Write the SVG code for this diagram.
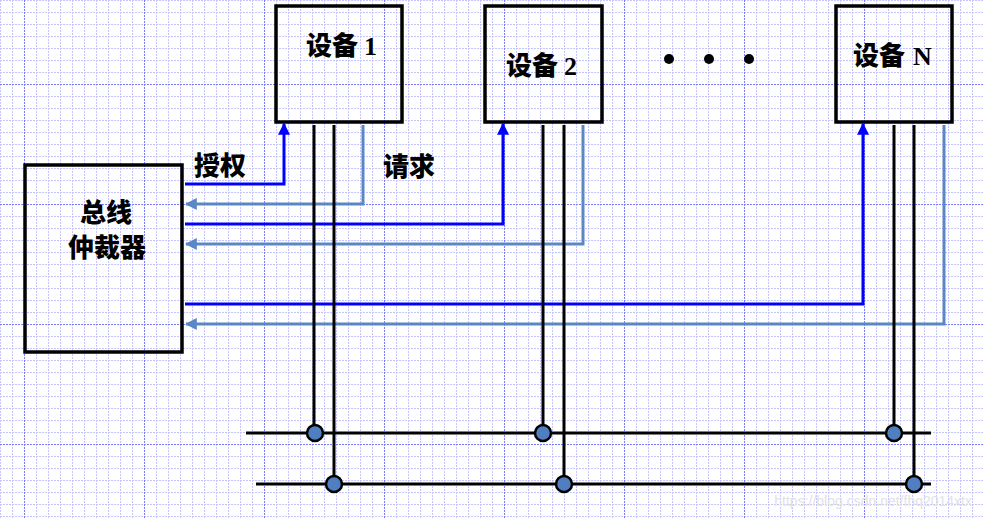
<svg xmlns="http://www.w3.org/2000/svg" width="984" height="519" viewBox="0 0 984 519">
<style>
.box{fill:none;stroke:#000;stroke-width:3.5}
.cn{font-family:"Noto Sans CJK SC","Noto Sans",sans-serif;font-weight:900;font-size:26px;fill:#000}
.num{font-family:"Liberation Serif",serif;font-weight:bold;font-size:26px}
.bus{fill:none;stroke:#000;stroke-width:3}
.grant{fill:none;stroke:#0000ff;stroke-width:3}
.req{fill:none;stroke:#5b87c5;stroke-width:3}
.tap{fill:#4f7fc0;stroke:#000;stroke-width:2.5}
</style>
<defs>
<pattern id="minor" width="12" height="12" patternUnits="userSpaceOnUse" x="0" y="0">
<path d="M0.5 0V12M0 0.5H12" stroke="#c4c4ff" stroke-width="1" stroke-dasharray="2 1" fill="none"/>
</pattern>
<pattern id="major" width="120" height="120" patternUnits="userSpaceOnUse" x="24" y="84">
<path d="M0.5 0V120M0 0.5H120" stroke="#7c7cff" stroke-width="1" stroke-dasharray="2 1" fill="none"/>
</pattern>
<marker id="ag" viewBox="0 0 10 10" refX="9" refY="5" markerWidth="4" markerHeight="4" markerUnits="strokeWidth" orient="auto">
<path d="M0 0L10 5L0 10z" fill="#0000ff"/>
</marker>
<marker id="ar" viewBox="0 0 10 10" refX="9" refY="5" markerWidth="4" markerHeight="4" markerUnits="strokeWidth" orient="auto">
<path d="M0 0L10 5L0 10z" fill="#5b87c5"/>
</marker>
</defs>
<rect width="984" height="519" fill="#fff"/>
<rect width="984" height="519" fill="url(#minor)"/>
<rect width="984" height="519" fill="url(#major)"/>

<g id="connectors">
<path class="grant" d="M185 184H284V124" marker-end="url(#ag)"/>
<path class="req" d="M363 125V204H186" marker-end="url(#ar)"/>
<path class="grant" d="M185 224H503V124" marker-end="url(#ag)"/>
<path class="req" d="M583 125V244H186" marker-end="url(#ar)"/>
<path class="grant" d="M185 304H863V124" marker-end="url(#ag)"/>
<path class="req" d="M944 125V324H186" marker-end="url(#ar)"/>
<path class="bus" d="M314 125V433M334 125V484M543 125V433M564 125V484M894 125V433M914 125V484"/>
<path class="bus" d="M246 433H931M256 484H931"/>
<circle class="tap" cx="315" cy="433" r="8"/>
<circle class="tap" cx="543" cy="433" r="8"/>
<circle class="tap" cx="894" cy="433" r="8"/>
<circle class="tap" cx="334" cy="484" r="8"/>
<circle class="tap" cx="564" cy="484" r="8"/>
<circle class="tap" cx="914" cy="484" r="8"/>
</g>

<g id="arbiter">
<rect class="box" x="25" y="165" width="157" height="187"/>
<text class="cn" x="106" y="222" text-anchor="middle" font-size="24">总线</text>
<text class="cn" x="107" y="257" text-anchor="middle" font-size="24">仲裁器</text>
</g>

<g id="device1">
<rect class="box" x="276" y="6" width="126" height="116"/>
<text class="cn" x="306" y="55">设备<tspan class="num" dx="6">1</tspan></text>
</g>

<g id="device2">
<rect class="box" x="485" y="6" width="117" height="116"/>
<text class="cn" x="506" y="75">设备<tspan class="num" dx="6">2</tspan></text>
</g>

<g id="dots">
<circle cx="669" cy="59" r="5" fill="#000"/>
<circle cx="709" cy="59" r="5" fill="#000"/>
<circle cx="749" cy="59" r="5" fill="#000"/>
</g>

<g id="deviceN">
<rect class="box" x="836" y="6" width="116" height="116"/>
<text class="cn" x="853" y="65">设备<tspan class="num" dx="8" font-weight="normal">N</tspan></text>
</g>

<g id="labels">
<text class="cn" x="194" y="175" font-size="25">授权</text>
<text class="cn" x="383" y="176" font-size="29">请求</text>
</g>

<text x="972" y="506" text-anchor="end" font-family="Liberation Sans, sans-serif" font-size="14" fill="#e2e2e2">https://blog.csdn.net/fhq2014xtx</text>
</svg>
